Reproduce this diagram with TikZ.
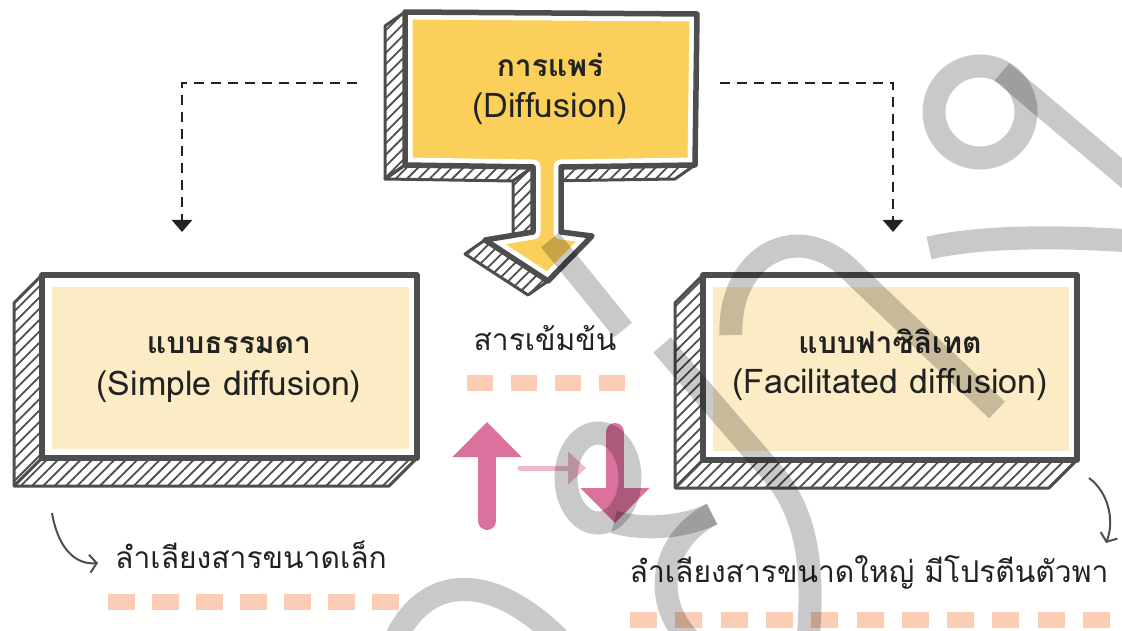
\documentclass[tikz,border=0pt]{standalone}
\usepackage{fontspec}
\setmainfont[Script=Thai]{Loma}
\usetikzlibrary{arrows.meta,calc,patterns.meta}
\definecolor{boxgray}{HTML}{4D4D4D}
\definecolor{gold}{HTML}{FAD05A}
\definecolor{cream}{HTML}{FCECC5}
\definecolor{peach}{HTML}{FBCDB5}
\definecolor{rose}{HTML}{DB729D}
\definecolor{lightrose}{HTML}{EDB9CD}
\definecolor{ink}{HTML}{222222}
\begin{document}
\begin{tikzpicture}
  [x=1pt,y=-1pt,every node/.style={text=ink,anchor=base,inner sep=0pt,font=\fontsize{30}{36}\selectfont}]
  \tikzstyle{latin} = [font=\fontsize{34}{40}\selectfont]
  \tikzstyle{hatch} = [draw=boxgray,line width=3pt,line join=round,pattern={Lines[angle=45,distance=8pt,line width=1.8pt]},pattern color=boxgray]
  \tikzstyle{face} = [draw=boxgray,line width=5.5pt,line join=round]
  \tikzstyle{conn} = [ink,line width=2.5pt,dash pattern=on 10pt off 7pt,-{Triangle[width=20pt,length=12pt]}]
  \tikzstyle{curly} = [boxgray,line width=2pt,-{Straight Barb[length=7pt,width=18pt]}]
  \tikzstyle{dabs} = [peach,line width=16pt]
  \tikzstyle{wmark} = [black,opacity=.21,line width=23pt]
  \useasboundingbox (0,0) rectangle (1122,631);

  \coordinate (a) at (405,12);
  \coordinate (b) at (697,14);
  \coordinate (c) at (695,165);
  \coordinate (d) at (561,167);
  \coordinate (e) at (561,232);
  \coordinate (f) at (592,236);
  \coordinate (g) at (548,281);
  \coordinate (h) at (485,240);
  \coordinate (i) at (533,232);
  \coordinate (j) at (533,167);
  \coordinate (k) at (405,165);
  \def\topshape{(a) -- (b) -- (c) -- (d) -- (e) -- (f) -- (g) -- (h) -- (i) -- (j) -- (k) -- cycle}

\foreach \p/\q in {a/k,k/j,j/i,h/g,d/c}
   \draw[hatch] (\p) -- (\q) -- ($(\q)+(-20,14)$) -- ($(\p)+(-20,14)$) -- cycle;
  \begin{scope}
    \clip \topshape;
    \fill[gold] \topshape;
    \draw[white,line width=15pt,line join=round] \topshape;
  \end{scope}
  \draw[face] \topshape;

\foreach \x/\y/\X/\Y in {42/275/417/458,703/275/1077/460} {
   \draw[hatch] (\x,\y) -- (\x-28,\y+28) -- (\x-28,\Y+28) -- (\X-28,\Y+28) -- (\X,\Y) -- (\x,\Y) -- cycle;
   \draw[hatch] (\x,\Y) -- (\x-28,\Y+28);
   \draw[face,fill=white] (\x,\y) rectangle (\X,\Y);
   \fill[cream] (\x+10,\y+12) rectangle (\X-8,\Y-9);
}

  \node (diff) at (550,77) {\bfseries การแพร่};
  \node[latin] (diffen) at (550,118) {(Diffusion)};
  \node (simple) at (229,353) {\bfseries แบบธรรมดา};
  \node[latin] (simpleen) at (229,395) {(Simple diffusion)};
  \node (facil) at (890,353) {\bfseries แบบฟาซิลิเทต};
  \node[latin] (facilen) at (890,393) {(Facilitated diffusion)};
  \node (conc) at (545,350) {สารเข้มข้น};
  \node (small) at (251,568) {ลำเลียงสารขนาดเล็ก};
  \node (large) at (869,582) {ลำเลียงสารขนาดใหญ่ มีโปรตีนตัวพา};

  \coordinate (lt) at (357,83);
  \coordinate (ld) at (182,232);
  \coordinate (rt) at (720,83);
  \coordinate (rd) at (893,232);
  \draw[conn] (lt) -| (ld);
  \draw[conn] (rt) -| (rd);

  \coordinate (c1) at (52,513);
  \coordinate (c2) at (98,563);
  \coordinate (c3) at (1089,478);
  \coordinate (c4) at (1106,543);
  \draw[curly] (c1) .. controls (58,548) and (75,565) .. (c2);
  \draw[curly] (c3) .. controls (1108,492) and (1115,520) .. (c4);

  \draw[dabs,dash pattern=on 26pt off 18pt] (467,383) -- (625,383);
  \draw[dabs,dash pattern=on 27pt off 17pt] (108,602) -- (399,602);
  \draw[dabs,dash pattern=on 27pt off 18.3pt] (630,620) -- (1111,620);

  \draw[rose,line width=18pt,line cap=round,-{Triangle[width=67pt,length=35pt]}] (487,521) -- (487,422);
  \draw[rose,line width=18pt,line cap=round,-{Triangle[width=67pt,length=35pt]}] (615,432) -- (615,523);
  \draw[lightrose,line width=5pt,line cap=round,-{Triangle[width=32pt,length=18pt]}] (520,468) -- (586,468);

  \draw[wmark] (550,240) -- (623,330);
  \draw[wmark] (731,335) .. controls (728,255) and (800,215) .. (855,275) -- (997,410);
  \draw[wmark] (980,112) circle [radius=46];
  \draw[wmark] (1002,72) -- (1130,180);
  \draw[wmark] (929,248) .. controls (980,236) and (1060,236) .. (1130,241);
  \draw[wmark] (598,478) ellipse [x radius=32,y radius=45];
  \draw[wmark] (662,345) -- (770,470) .. controls (805,510) and (815,560) .. (808,640);
  \draw[wmark] (614,522) .. controls (650,532) and (690,525) .. (712,514);
  \draw[wmark] (712,514) .. controls (662,540) and (650,600) .. (690,640);
  \draw[wmark] (395,640) .. controls (425,575) and (490,570) .. (560,640);
\end{tikzpicture}
\end{document}
